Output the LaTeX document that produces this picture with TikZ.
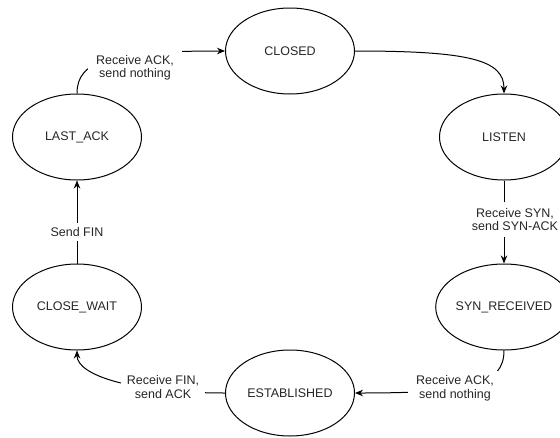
\documentclass[tikz,border=0pt]{standalone}
\usepackage{fontspec}
\setmainfont{Liberation Sans}
\usetikzlibrary{shapes.geometric,arrows.meta}
\begin{document}
\begin{tikzpicture}[x=1pt,y=-1pt,line width=1pt,
  txt/.style={font=\fontsize{12.5}{13.5}\selectfont, text=black!85},
  state/.style={txt, draw, ellipse, minimum width=129pt, minimum height=86pt, inner sep=0pt},
  lbl/.style={txt, fill=white, align=center, inner xsep=6pt, inner ysep=5pt},
  arr/.style={-{Stealth[length=8pt,width=6.5pt]}}]
\useasboundingbox (0,0) rectangle (560,437);
\node[state] (closed) at (290,51) {CLOSED};
\node[state] (listen) at (504,137) {LISTEN};
\node[state] (synrec) at (504,307) {SYN\_RECEIVED};
\node[state] (estab) at (290,393) {ESTABLISHED};
\node[state] (closewait) at (77,307) {CLOSE\_WAIT};
\node[state] (lastack) at (77,137) {LAST\_ACK};
% connectors
\draw[arr] (closed.east) .. controls (470,51) and (504,60) .. (listen.north);
\draw[arr] (listen.south) -- (synrec.north);
\draw[arr] (synrec.south) .. controls (504,385) and (470,393) .. (estab.east);
\draw[arr] (estab.west) .. controls (130,393) and (77,375) .. (closewait.south);
\draw[arr] (closewait.north) -- (lastack.south);
\draw[arr] (lastack.north) .. controls (77,60) and (110,51) .. (closed.west);
% labels
\node[lbl, inner ysep=6pt] (l1) at (515,219.5) {Receive SYN,\\send SYN-ACK};
\node[lbl, inner xsep=8pt] (l2) at (455,388.5) {Receive ACK,\\send nothing};
\node[lbl] (l3) at (163,387) {Receive FIN,\\send ACK};
\node[lbl, inner ysep=4pt] (l4) at (77,232) {Send FIN};
\node[lbl, inner xsep=8pt] (l5) at (135,68) {Receive ACK,\\send nothing};
\end{tikzpicture}
\end{document}
